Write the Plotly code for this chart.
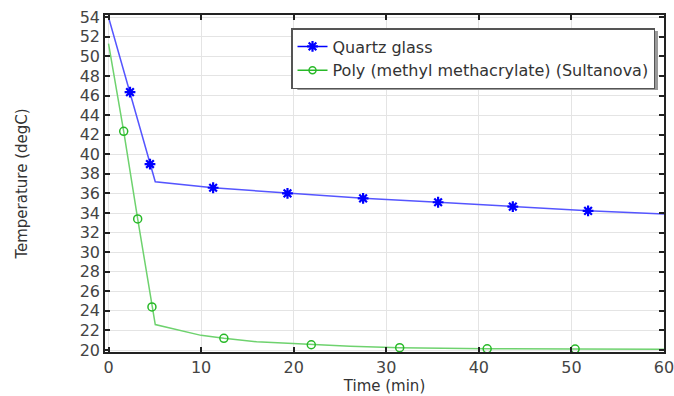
import plotly.graph_objects as go

# Quartz glass
quartz_line_x = [0, 2.32, 4.48, 5.05, 11.3, 19.33, 27.5, 35.6, 43.67, 51.8, 60]
quartz_line_y = [54.0, 46.35, 39.0, 37.2, 36.58, 36.01, 35.5, 35.1, 34.65, 34.22, 33.9]
quartz_mark_x = [2.32, 4.48, 11.3, 19.33, 27.5, 35.6, 43.67, 51.8]
quartz_mark_y = [46.35, 39.0, 36.58, 36.01, 35.5, 35.1, 34.65, 34.22]

# PMMA (Sultanova)
pmma_line_x = [0, 1.64, 3.15, 4.69, 5.05, 10, 12.46, 16, 21.9, 26.1, 31.45, 40.9, 50.4, 60]
pmma_line_y = [51.3, 42.35, 33.4, 24.4, 22.6, 21.5, 21.2, 20.85, 20.54, 20.38, 20.24, 20.13, 20.1, 20.08]
pmma_mark_x = [1.64, 3.15, 4.69, 12.46, 21.9, 31.45, 40.9, 50.4]
pmma_mark_y = [42.35, 33.4, 24.4, 21.2, 20.54, 20.24, 20.13, 20.1]

series_names = ["Quartz glass", "Poly (methyl methacrylate) (Sultanova)"]

x_ticks = [0, 10, 20, 30, 40, 50, 60]
y_ticks = list(range(20, 55, 2))

blue_line = "rgb(85,85,255)"
blue_mark = "rgb(0,0,255)"
green_line = "rgb(110,210,110)"
green_mark = "rgb(40,185,40)"

fig = go.Figure()
fig.add_trace(go.Scatter(x=quartz_line_x, y=quartz_line_y, mode="lines",
                         line=dict(color=blue_line, width=1.5), showlegend=False))
fig.add_trace(go.Scatter(x=quartz_mark_x, y=quartz_mark_y, mode="markers",
                         marker=dict(symbol="asterisk-open", size=9, color=blue_mark,
                                     line=dict(color=blue_mark, width=2.2)),
                         showlegend=False))
fig.add_trace(go.Scatter(x=pmma_line_x, y=pmma_line_y, mode="lines",
                         line=dict(color=green_line, width=1.5), showlegend=False))
fig.add_trace(go.Scatter(x=pmma_mark_x, y=pmma_mark_y, mode="markers",
                         marker=dict(symbol="circle-open", size=8, color=green_mark,
                                     line=dict(color=green_mark, width=1.5)),
                         showlegend=False))
# legend entries
fig.add_trace(go.Scatter(x=[None], y=[None], mode="lines+markers", name=series_names[0],
                         line=dict(color=blue_mark, width=1.5),
                         marker=dict(symbol="asterisk-open", size=9, color=blue_mark,
                                     line=dict(color=blue_mark, width=2.2))))
fig.add_trace(go.Scatter(x=[None], y=[None], mode="lines+markers", name=series_names[1],
                         line=dict(color=green_mark, width=1.5),
                         marker=dict(symbol="circle-open", size=7, color=green_mark,
                                     line=dict(color=green_mark, width=1.5))))

font_family = "DejaVu Sans"
axis_common = dict(showline=True, linecolor="#222", linewidth=1.5, mirror="allticks",
                   ticks="inside", ticklen=5, tickcolor="#222", tickwidth=1.5,
                   showgrid=True, gridcolor="#e4e4e4", gridwidth=1, zeroline=False,
                   automargin=False, ticklabeloverflow="allow",
                   tickfont=dict(family=font_family, size=16, color="#444"))

fig.update_xaxes(range=[-0.38, 60], tickvals=x_ticks,
                 title=dict(text="Time (min)", font=dict(family=font_family, size=15, color="#333"),
                            standoff=2),
                 **axis_common)
fig.update_yaxes(range=[19.8, 54.23], tickvals=y_ticks,
                 title=dict(text="Temperature (degC)", font=dict(family=font_family, size=15, color="#333"),
                            standoff=48),
                 **axis_common)

# legend shadow
fig.add_shape(type="rect", xref="paper", yref="paper",
              x0=(297 - 104.5) / 559.5, x1=(658 - 104.5) / 559.5,
              y0=(352 - 90) / 337, y1=(352 - 31) / 337,
              fillcolor="#9a9a9a", line=dict(width=0), layer="above")

fig.update_layout(
    width=674, height=396,
    margin=dict(l=104.5, r=10, t=15, b=44, autoexpand=False),
    plot_bgcolor="white", paper_bgcolor="white",
    font=dict(family=font_family, size=16, color="#333"),
    legend=dict(x=(655 - 104.5) / 559.5, xanchor="right", y=(352 - 28) / 337, yanchor="top",
                bgcolor="white", bordercolor="#555", borderwidth=1.5,
                font=dict(family=font_family, size=16, color="#333"),
                tracegroupgap=0, itemwidth=30),
)

fig.write_html("out.html", config={"displayModeBar": False},
               post_script="document.body.style.margin='0';document.body.style.overflow='hidden';")
